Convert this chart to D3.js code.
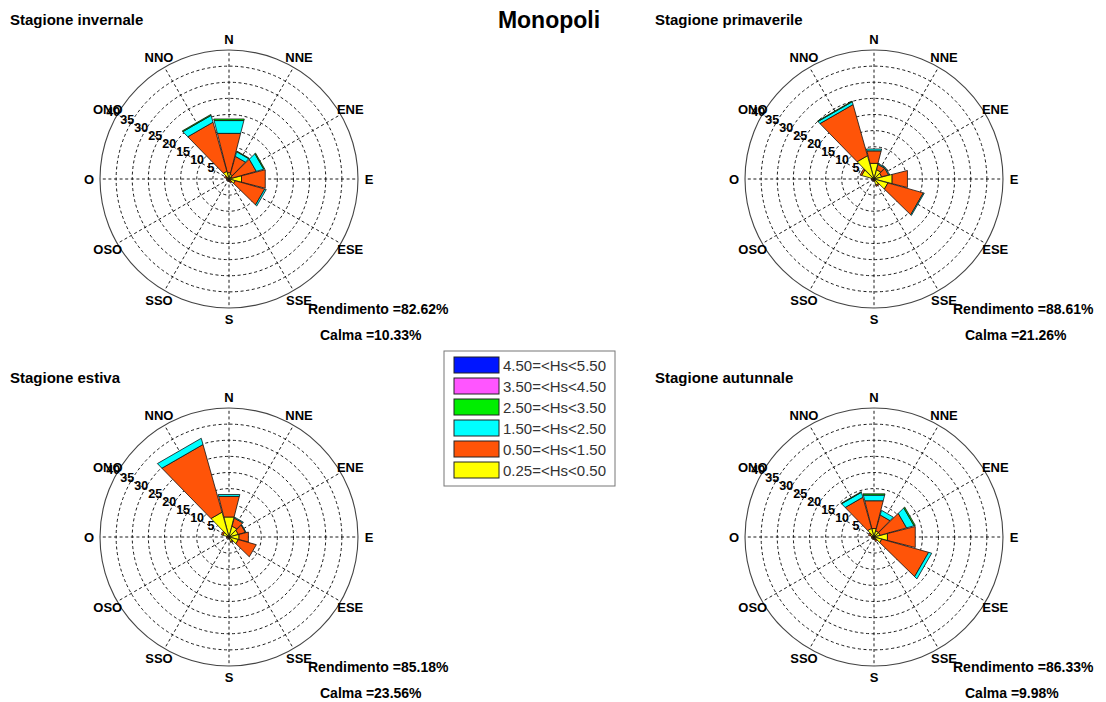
<!DOCTYPE html>
<html>
<head>
<meta charset="utf-8">
<script src="https://cdn.jsdelivr.net/npm/d3@7"></script>
<style>
  html, body { margin: 0; padding: 0; background: #fff; }
  svg { display: block; }
  text { font-family: Arial, "Liberation Sans", sans-serif; }
</style>
</head>
<body>
<svg id="chart" width="1106" height="702"></svg>
<script>
// Wave-direction sectors (degrees clockwise from north), 30° each
const sectorAngles = [0, 30, 60, 90, 120, 150, 180, 210, 240, 270, 300, 330];

// Direction labels around each rose
const dirAngles = [0, 30, 60, 90, 120, 150, 180, 210, 240, 270, 300, 330];
const dirLabels = ["N", "NNE", "ENE", "E", "ESE", "SSE", "S", "SSO", "OSO", "O", "ONO", "NNO"];

// Radial ticks (% frequency)
const ringTicks = [5, 10, 15, 20, 25, 30, 35, 40];

// Wave-height classes, inner to outer
const classLabels = ["0.25=<Hs<0.50", "0.50=<Hs<1.50", "1.50=<Hs<2.50", "2.50=<Hs<3.50", "3.50=<Hs<4.50", "4.50=<Hs<5.50"];
const classColors = ["#ffff00", "#ff5408", "#00ffff", "#00ee00", "#ff55ff", "#0015ff"];

// Frequencies (%) per class (rows) and sector (columns)
const invernale = [
  [2.0, 1.5, 1.0, 4.0, 2.0, 0.8, 0.5, 0.4, 0.4, 0.5, 1.0, 2.5],
  [12.6, 5.8, 7.8, 7.6, 9.5, 0.5, 0.3, 0.2, 0.2, 0.3, 0.5, 15.8],
  [4.1, 1.5, 2.4, 0.0, 0.5, 0.0, 0.0, 0.0, 0.0, 0.0, 0.0, 2.2],
  [0.5, 0.2, 0.3, 0.0, 0.0, 0.0, 0.0, 0.0, 0.0, 0.0, 0.0, 0.3],
  [0, 0, 0, 0, 0, 0, 0, 0, 0, 0, 0, 0],
  [0, 0, 0, 0, 0, 0, 0, 0, 0, 0, 0, 0]
];
const primaverile = [
  [5.0, 3.0, 2.5, 5.8, 4.5, 2.0, 0.5, 0.4, 0.4, 0.6, 4.0, 7.5],
  [4.0, 1.7, 2.2, 4.9, 11.4, 0.4, 0.2, 0.2, 0.2, 0.3, 0.5, 16.5],
  [0.6, 0.3, 0.3, 0.0, 0.3, 0.0, 0.0, 0.0, 0.0, 0.0, 0.0, 0.9],
  [0.0, 0.0, 0.0, 0.0, 0.0, 0.0, 0.0, 0.0, 0.0, 0.0, 0.0, 0.2],
  [0, 0, 0, 0, 0, 0, 0, 0, 0, 0, 0, 0],
  [0, 0, 0, 0, 0, 0, 0, 0, 0, 0, 0, 0]
];
const estiva = [
  [6.4, 3.5, 3.0, 3.2, 3.0, 1.5, 0.4, 0.3, 0.3, 0.5, 2.0, 8.0],
  [6.6, 2.6, 2.3, 3.0, 5.8, 0.3, 0.2, 0.2, 0.2, 0.3, 0.5, 21.8],
  [0.6, 0.3, 0.2, 0.0, 0.0, 0.0, 0.0, 0.0, 0.0, 0.0, 0.0, 2.0],
  [0, 0, 0, 0, 0, 0, 0, 0, 0, 0, 0, 0],
  [0, 0, 0, 0, 0, 0, 0, 0, 0, 0, 0, 0],
  [0, 0, 0, 0, 0, 0, 0, 0, 0, 0, 0, 0]
];
const autunnale = [
  [2.7, 2.0, 2.0, 4.3, 2.5, 1.0, 0.5, 0.4, 0.4, 0.5, 1.2, 2.8],
  [8.9, 5.1, 8.5, 8.9, 15.1, 0.5, 0.3, 0.2, 0.2, 0.3, 0.6, 10.0],
  [1.8, 1.5, 2.4, 0.0, 1.0, 0.0, 0.0, 0.0, 0.0, 0.0, 0.0, 1.6],
  [0.4, 0.0, 0.4, 0.0, 0.0, 0.0, 0.0, 0.0, 0.0, 0.0, 0.0, 0.2],
  [0, 0, 0, 0, 0, 0, 0, 0, 0, 0, 0, 0],
  [0, 0, 0, 0, 0, 0, 0, 0, 0, 0, 0, 0]
];

const seasonTitles = ["Stagione invernale", "Stagione primaverile", "Stagione estiva", "Stagione autunnale"];
const seasonData = [invernale, primaverile, estiva, autunnale];
const rendimento = ["82.62", "88.61", "85.18", "86.33"];
const calma = ["10.33", "21.26", "23.56", "9.98"];

const svg = d3.select("#chart");
const R = 129;
const rScale = d3.scaleLinear().domain([0, 40]).range([0, R]);
const toRad = d => d * Math.PI / 180;
const halfWidth = 14.3;

const panels = [
  { cx: 229, cy: 179, tx: 10, ty: 25 },
  { cx: 874, cy: 179, tx: 655, ty: 25 },
  { cx: 229, cy: 537, tx: 10, ty: 383 },
  { cx: 874, cy: 537, tx: 655, ty: 383 }
];

svg.append("text")
  .attr("x", 549).attr("y", 28)
  .attr("text-anchor", "middle")
  .attr("font-size", 23).attr("font-weight", "bold")
  .text("Monopoli");

const sectorPath = d3.lineRadial()
  .angle(p => toRad(p[0]))
  .radius(p => rScale(p[1]))
  .curve(d3.curveLinearClosed);

panels.forEach((p, i) => {
  svg.append("text")
    .attr("x", p.tx).attr("y", p.ty)
    .attr("font-size", 15).attr("font-weight", "bold")
    .text(seasonTitles[i]);

  const g = svg.append("g").attr("transform", `translate(${p.cx},${p.cy})`);

  // dashed rings
  g.selectAll("circle.ring")
    .data(ringTicks.slice(0, -1))
    .join("circle")
    .attr("r", d => rScale(d))
    .attr("fill", "none")
    .attr("stroke", "#000")
    .attr("stroke-width", 0.9)
    .attr("stroke-dasharray", "3,2.6");

  // dashed spokes
  g.selectAll("line.spoke")
    .data(dirAngles)
    .join("line")
    .attr("x1", 0).attr("y1", 0)
    .attr("x2", d => rScale(40) * Math.sin(toRad(d)))
    .attr("y2", d => -rScale(40) * Math.cos(toRad(d)))
    .attr("stroke", "#000")
    .attr("stroke-width", 0.9)
    .attr("stroke-dasharray", "3,2.6");

  // outer circle
  g.append("circle")
    .attr("r", rScale(40))
    .attr("fill", "none")
    .attr("stroke", "#444")
    .attr("stroke-width", 1.1);

  // stacked sector bars
  const rows = sectorAngles.map((a, j) => {
    const o = { angle: a };
    classLabels.forEach((c, k) => { o[k] = seasonData[i][k][j]; });
    return o;
  });
  const stacked = d3.stack().keys(d3.range(classLabels.length))(rows);
  stacked.forEach((layer, k) => {
    g.append("g").selectAll("path")
      .data(layer.filter(s => s[1] - s[0] > 0))
      .join("path")
      .attr("d", s => {
        const a = s.data.angle;
        return sectorPath([[a - halfWidth, s[0]], [a - halfWidth, s[1]], [a + halfWidth, s[1]], [a + halfWidth, s[0]]]);
      })
      .attr("fill", classColors[k])
      .attr("stroke", "#111")
      .attr("stroke-width", 0.8)
      .attr("stroke-linejoin", "round");
  });

  // ring labels along the ONO spoke
  const la = toRad(300);
  g.selectAll("text.tick")
    .data(ringTicks)
    .join("text")
    .attr("x", d => rScale(d) * Math.sin(la) - 4)
    .attr("y", d => -rScale(d) * Math.cos(la) - 2)
    .attr("text-anchor", "middle")
    .attr("dominant-baseline", "middle")
    .attr("font-size", 12.5).attr("font-weight", "bold")
    .text(d => d);

  // direction labels
  g.selectAll("text.dir")
    .data(dirAngles)
    .join("text")
    .attr("x", (d) => 140 * Math.sin(toRad(d)))
    .attr("y", (d) => -140 * Math.cos(toRad(d)))
    .attr("text-anchor", "middle")
    .attr("dominant-baseline", "central")
    .attr("font-size", 13).attr("font-weight", "bold")
    .text((d, k) => dirLabels[k]);

  g.append("text")
    .attr("x", 79).attr("y", 135)
    .attr("font-size", 14).attr("font-weight", "bold")
    .text(`Rendimento =${rendimento[i]}%`);
  g.append("text")
    .attr("x", 91).attr("y", 161)
    .attr("font-size", 14).attr("font-weight", "bold")
    .text(`Calma =${calma[i]}%`);
});

// legend
const lg = svg.append("g").attr("transform", "translate(444,351)");
lg.append("rect")
  .attr("width", 171).attr("height", 135)
  .attr("fill", "#fff").attr("stroke", "#777").attr("stroke-width", 1);
const legendOrder = d3.range(classLabels.length).reverse();
const ly = d3.scaleBand().domain(legendOrder).range([4, 130]);
legendOrder.forEach(k => {
  lg.append("rect")
    .attr("x", 10).attr("y", ly(k) + 2)
    .attr("width", 45).attr("height", 16)
    .attr("fill", classColors[k]).attr("stroke", "#222").attr("stroke-width", 1);
  lg.append("text")
    .attr("x", 59).attr("y", ly(k) + 15.5)
    .attr("font-size", 15).attr("fill", "#333")
    .text(classLabels[k]);
});
</script>
</body>
</html>
